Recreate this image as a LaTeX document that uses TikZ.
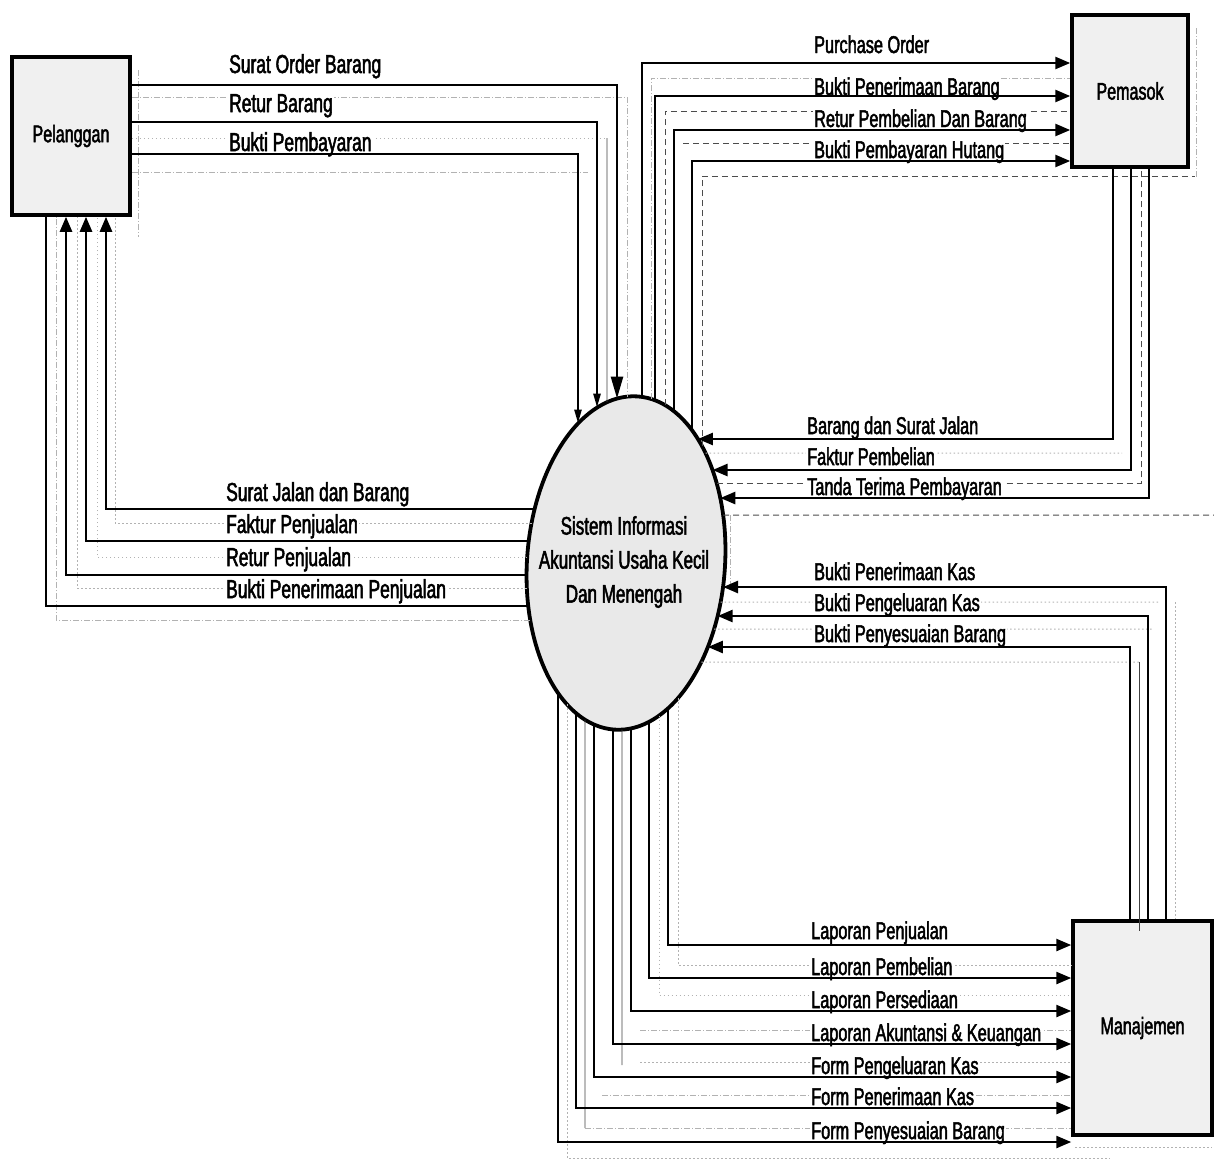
\documentclass[tikz,border=0pt]{standalone}
\usepackage{fontspec}
\setmainfont{Liberation Sans}[FakeStretch=0.67,FakeBold=2]
\usetikzlibrary{arrows.meta,intersections}

\begin{document}
\begin{tikzpicture}[x=1pt,y=-1pt,
  ent/.style={draw, line width=3.5pt, fill=gray!12, inner sep=0pt,
    font=\fontsize{24}{28}\selectfont},
  lbl/.style={font=\fontsize{26}{30}\selectfont, anchor=base west,
    fill=white, inner sep=1pt},
  lblr/.style={lbl, font=\fontsize{24.3}{28}\selectfont},
  line/.style={line width=2.5pt},
  flow/.style={line, -{Triangle[length=15pt,width=12pt]}},
  bigtip/.style={line, -{Triangle[length=22pt,width=12pt]}},
  thintip/.style={line, -{Triangle[length=14pt,width=7pt]}},
  shd/.style={draw=gray!60, line width=0.9pt, dash pattern=on 6pt off 2pt on 1pt off 2pt},
  sdot/.style={draw=gray!60, line width=1pt, dash pattern=on 1.5pt off 2.5pt},
  dsh/.style={draw=black!70, line width=1pt, dash pattern=on 6pt off 4pt},
  thin/.style={draw=black!75, line width=0.8pt}]

\useasboundingbox (0,0) rectangle (1214,1160);

% external entities
\node[ent, minimum width=118pt, minimum height=158pt] (pel) at (71,136) {Pelanggan};
\node[ent, minimum width=116pt, minimum height=152pt] (pem) at (1130,91) {Pemasok};
\node[ent, minimum width=139pt, minimum height=214pt] (man) at (1142.5,1028) {Manajemen};

% the process
\path[draw, line width=3.8pt, fill=gray!17, name path=ell,
  rotate around={-4:(626,563)}] (626,563) ellipse [x radius=99, y radius=167];
\node[font=\fontsize{25.4}{34}\selectfont, align=center] (sys) at (624,562)
  {Sistem Informasi\\Akuntansi Usaha Kecil\\Dan Menengah};

% attachment points on the process border
\foreach \nm/\xx in {a1/617,a2/597,a3/578,b1/642,b2/655,b3/674,b4/692,
                     sa1/627,sa2/607,sb1/651,sb2/665,sb3/702}{
  \path[name path=vl] (\xx,200) -- (\xx,563);
  \path[name intersections={of=ell and vl, by={\nm}}];
}
\foreach \nm/\xx in {d1/668,d2/649,d3/631,d4/613,d5/594,d6/576,d7/558,
                     sd1/678,sd2/659,sd3/622,sd4/585,sd5/567}{
  \path[name path=vl] (\xx,563) -- (\xx,900);
  \path[name intersections={of=ell and vl, by={\nm}}];
}
\foreach \nm/\yy in {r1/439,r2/470,r3/498,r4/587,r5/616,r6/647,
                     sr1/453,sr2/483,sr3/515,sr4/602,sr5/629,sr6/662}{
  \path[name path=hl] (626,\yy) -- (900,\yy);
  \path[name intersections={of=ell and hl, by={\nm}}];
}
\foreach \nm/\yy in {l1/509,l2/541,l3/575,l4/606,sl1/523,sl2/557,sl3/588,sl4/620}{
  \path[name path=hl] (300,\yy) -- (626,\yy);
  \path[name intersections={of=ell and hl, by={\nm}}];
}

% faint secondary lines
\draw[shd] (pel.east |- 0,97) -| (sa1);
\draw[sdot] (pel.east |- 0,138) -- (607,138);
\draw[thin] (607,138) -- (sa2);
\draw[shd] (pel.east |- 0,172) -- (588,172);
\draw[shd] (138,70) -- (138,237);

\draw[shd] (sb1) |- (pem.west |- 0,78);
\draw[dsh] (sb2) |- (pem.west |- 0,111);
\draw[dsh] (683,143) -- (pem.west |- 0,143);
\draw[dsh] (sb3) |- (1195,176);
\draw[shd] (1196,28) -- (1196,178);

\draw[sdot] (sr1) -- (1122,453);
\draw[dsh] (sr2) -| (pem.south -| 1141,0);
\draw[dsh] (sr3) -- (1214,515);
\draw[shd] (730,515) -- (730,588);
\draw[sdot] (sr4) -- (1160,602);
\draw[sdot] (1175,602) -- (man.north -| 1175,0);
\draw[sdot] (sr5) -- (1152,629);
\draw[sdot] (sr6) -- (1139,662);
\draw[thin] (1139,662) -- ([yshift=-12pt]man.north -| 1139,0);

\draw[sdot] (sl1) -| (pel.south -| 115,0);
\draw[sdot] (sl2) -| (pel.south -| 97,0);
\draw[sdot] (sl3) -| (pel.south -| 77,0);
\draw[shd] (sl4) -| (pel.south -| 56,0);

\draw[sdot] (sd1) |- (man.west |- 0,965);
\draw[sdot] (sd2) |- (man.west |- 0,995);
\draw[shd] (640,1030) -- (man.west |- 0,1030);
\draw[thin] (sd3) -- (622,1065);
\draw[sdot] (640,1062) -- (man.west |- 0,1062);
\draw[shd] (602,1095) -- (man.west |- 0,1095);
\draw[thin] (sd4) -- (585,1128);
\draw[shd] (585,1128) -- (man.west |- 0,1128);
\draw[sdot] (sd5) |- (1110,1158);
\draw[sdot] (1075,1147) -- (1212,1147);

% flow labels
\node[lbl] (tsob) at (228,73)  {Surat Order Barang};
\node[lbl] (trb)  at (228,112) {Retur Barang};
\node[lbl] (tbp)  at (228,151) {Bukti Pembayaran};

\node[lblr] (tpo)  at (813,53)  {Purchase Order};
\node[lblr] (tbpb) at (813,95)  {Bukti Penerimaan Barang};
\node[lblr] (trpb) at (813,127) {Retur Pembelian Dan Barang};
\node[lblr] (tbph) at (813,158) {Bukti Pembayaran Hutang};

\node[lblr] (tbsj) at (806,434) {Barang dan Surat Jalan};
\node[lblr] (tfpb) at (806,465) {Faktur Pembelian};
\node[lblr] (ttp)  at (806,495) {Tanda Terima Pembayaran};
\node[lblr] (tbpk) at (813,580) {Bukti Penerimaan Kas};
\node[lblr] (tbgk) at (813,611) {Bukti Pengeluaran Kas};
\node[lblr] (tbsb) at (813,642) {Bukti Penyesuaian Barang};

\node[lbl] (tsjb) at (225,501) {Surat Jalan dan Barang};
\node[lbl] (tfpj) at (225,533) {Faktur Penjualan};
\node[lbl] (trpj) at (225,566) {Retur Penjualan};
\node[lbl] (tbpp) at (225,598) {Bukti Penerimaan Penjualan};

\node[lblr] (tlpj) at (810,939)  {Laporan Penjualan};
\node[lblr] (tlpb) at (810,975)  {Laporan Pembelian};
\node[lblr] (tlps) at (810,1008) {Laporan Persediaan};
\node[lblr] (tlak) at (810,1041) {Laporan Akuntansi \& Keuangan};
\node[lblr] (tfgk) at (810,1074) {Form Pengeluaran Kas};
\node[lblr] (tfpk) at (810,1105) {Form Penerimaan Kas};
\node[lblr] (tfsb) at (810,1139) {Form Penyesuaian Barang};

% flows: Pelanggan -> process
\draw[bigtip]  (pel.east |- 0,85)  -| (a1);
\draw[thintip] (pel.east |- 0,122) -| (a2);
\draw[thintip] (pel.east |- 0,154) -| (a3);

% flows: process -> Pemasok
\draw[flow] (b1) |- (pem.west |- 0,63);
\draw[flow] (b2) |- (pem.west |- 0,96);
\draw[flow] (b3) |- (pem.west |- 0,130);
\draw[flow] (b4) |- (pem.west |- 0,161);

% flows: Pemasok -> process
\draw[flow] (pem.south -| 1113,0) |- (r1);
\draw[flow] (pem.south -| 1131,0) |- (r2);
\draw[flow] (pem.south -| 1149,0) |- (r3);

% flows: Manajemen -> process
\draw[flow] (man.north -| 1166,0) |- (r4);
\draw[flow] (man.north -| 1148,0) |- (r5);
\draw[flow] (man.north -| 1130,0) |- (r6);

% flows: process -> Pelanggan
\draw[flow] (l1) -| (pel.south -| 106,0);
\draw[flow] (l2) -| (pel.south -| 86,0);
\draw[flow] (l3) -| (pel.south -| 66,0);
\draw[line] (l4) -| (pel.south -| 46,0);

% flows: process -> Manajemen
\draw[flow] (d1) |- (man.west |- 0,945);
\draw[flow] (d2) |- (man.west |- 0,978);
\draw[flow] (d3) |- (man.west |- 0,1011);
\draw[flow] (d4) |- (man.west |- 0,1044);
\draw[flow] (d5) |- (man.west |- 0,1077);
\draw[flow] (d6) |- (man.west |- 0,1108);
\draw[flow] (d7) |- (man.west |- 0,1142);
\end{tikzpicture}
\end{document}
